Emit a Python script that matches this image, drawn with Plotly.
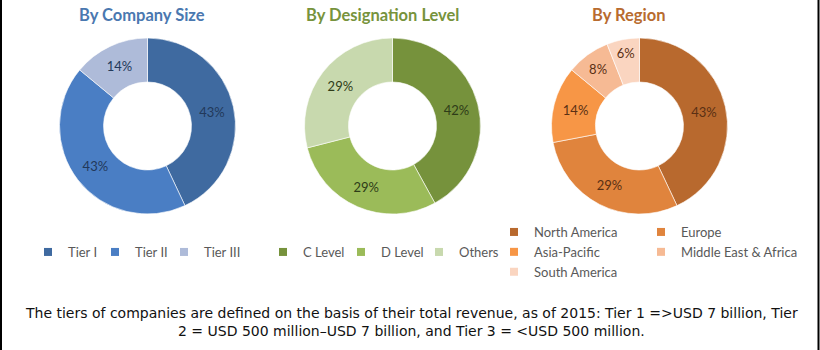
import plotly.graph_objects as go

W, H = 820, 350

# ---- data ----
size_labels = ["Tier I", "Tier II", "Tier III"]
size_values = [43, 43, 14]
size_colors = ["#3F6AA0", "#4A7EC4", "#AEBBD9"]

desig_labels = ["C Level", "D Level", "Others"]
desig_values = [42, 29, 29]
desig_colors = ["#76923C", "#9BBB59", "#C8D9AE"]

region_labels = ["North America", "Europe", "Asia-Pacific", "Middle East & Africa", "South America"]
region_values = [43, 29, 14, 8, 6]
region_colors = ["#B8692E", "#E0843D", "#F79646", "#F6BA94", "#FAD5C0"]

titles = ["By Company Size", "By Designation Level", "By Region"]
title_colors = ["#4A78B0", "#77933C", "#B86B2F"]
label_colors = ["#22395A", "#2E3C18", "#5A3014"]

note_line1 = "The tiers of companies are defined on the basis of their total revenue, as of 2015: Tier 1 =&gt;USD 7 billion, Tier"
note_line2 = "2 = USD 500 million–USD 7 billion, and Tier 3 = &lt;USD 500 million."

# ---- geometry (pixels) ----
centers_x = [147.5, 392.5, 639.5]
cy = 126
r = 88
title_x = [142, 382, 629]
title_y = 15


def px_x(x):
    return x / W


def px_y(y):
    return 1 - y / H


fig = go.Figure()

pies = [
    (size_labels, size_values, size_colors),
    (desig_labels, desig_values, desig_colors),
    (region_labels, region_values, region_colors),
]

for i, (labs, vals, cols) in enumerate(pies):
    cx = centers_x[i]
    fig.add_trace(go.Pie(
        labels=labs, values=vals,
        marker=dict(colors=cols, line=dict(color="rgba(255,255,255,0.6)", width=1)),
        hole=0.5, sort=False, direction="clockwise", rotation=0,
        texttemplate="%{value}%", textposition="inside",
        insidetextorientation="horizontal",
        textfont=dict(family="Lato", size=13, color=label_colors[i]),
        domain=dict(x=[px_x(cx - r), px_x(cx + r)], y=[px_y(cy + r), px_y(cy - r)]),
        showlegend=False, hoverinfo="label+percent",
    ))


# legend entries (empty traces so squares can be small and region legend split in 2 columns)
def add_entries(labs, cols, legend_names, widths):
    for lab, col, lg, w in zip(labs, cols, legend_names, widths):
        fig.add_trace(go.Scatter(
            x=[None], y=[None], mode="markers", name=lab,
            marker=dict(symbol="square", size=8, color=col),
            legend=lg, showlegend=True, hoverinfo="skip",
            legendwidth=w,
        ))


add_entries(size_labels, size_colors, ["legend"] * 3, [22, 24, 60])
add_entries(desig_labels, desig_colors, ["legend2"] * 3, [33, 33, 60])
add_entries(region_labels, region_colors,
            ["legend3", "legend4", "legend3", "legend4", "legend3"],
            [None] * 5)

leg_font = dict(family="Lato", size=13, color="#595959")
fig.update_layout(
    width=W, height=H,
    margin=dict(l=0, r=0, t=0, b=0),
    paper_bgcolor="white", plot_bgcolor="white",
    showlegend=True,
    xaxis=dict(visible=False), yaxis=dict(visible=False),
    legend=dict(orientation="h", x=px_x(28), y=px_y(252), xanchor="left", yanchor="middle",
                font=leg_font, bgcolor="rgba(0,0,0,0)", itemwidth=30),
    legend2=dict(orientation="h", x=px_x(263), y=px_y(252), xanchor="left", yanchor="middle",
                 font=leg_font, bgcolor="rgba(0,0,0,0)", itemwidth=30),
    legend3=dict(orientation="v", x=px_x(494), y=px_y(217), xanchor="left", yanchor="top",
                 font=leg_font, bgcolor="rgba(0,0,0,0)", itemwidth=30),
    legend4=dict(orientation="v", x=px_x(641), y=px_y(217), xanchor="left", yanchor="top",
                 font=leg_font, bgcolor="rgba(0,0,0,0)", itemwidth=30),
)

for i, t in enumerate(titles):
    fig.add_annotation(text="<b>" + t + "</b>", x=px_x(title_x[i]), y=px_y(title_y),
                       xref="paper", yref="paper", showarrow=False,
                       xanchor="center", yanchor="middle",
                       font=dict(family="Lato", size=16.5, color=title_colors[i]))

fig.add_annotation(text=note_line1, x=px_x(411), y=px_y(313), xref="paper", yref="paper",
                   showarrow=False, xanchor="center", yanchor="middle",
                   font=dict(family="DejaVu Sans", size=14, color="#111111"))
fig.add_annotation(text=note_line2, x=px_x(411), y=px_y(331), xref="paper", yref="paper",
                   showarrow=False, xanchor="center", yanchor="middle",
                   font=dict(family="DejaVu Sans", size=14, color="#111111"))

# frame edges
for xp in [1, 818.5]:
    fig.add_shape(type="line", xref="paper", yref="paper", x0=px_x(xp), x1=px_x(xp), y0=0, y1=1,
                  line=dict(color="black", width=2))

fig.write_html("out.html")
